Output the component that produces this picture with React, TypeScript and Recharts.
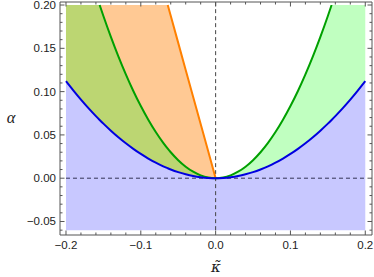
import React from 'react';
import { ComposedChart, Area, Line, XAxis, YAxis, ReferenceLine } from 'recharts';

const kappa = [
  -0.2, -0.19, -0.18, -0.17, -0.16, -0.155, -0.15, -0.14, -0.13, -0.12, -0.11, -0.1,
  -0.09, -0.08, -0.07, -0.064, -0.06, -0.05, -0.04, -0.03, -0.02, -0.01, 0,
  0.01, 0.02, 0.03, 0.04, 0.05, 0.06, 0.07, 0.08, 0.09, 0.1, 0.11, 0.12, 0.13, 0.14,
  0.15, 0.155, 0.16, 0.17, 0.18, 0.19, 0.2,
];
const blueAlpha = [
  0.112, 0.1011, 0.0907, 0.0809, 0.0717, 0.0673, 0.063, 0.0549, 0.0473, 0.0403, 0.0339, 0.028,
  0.0227, 0.0179, 0.0137, 0.0115, 0.0101, 0.007, 0.0045, 0.0025, 0.0011, 0.0003, 0,
  0.0003, 0.0011, 0.0025, 0.0045, 0.007, 0.0101, 0.0137, 0.0179, 0.0227, 0.028, 0.0339, 0.0403,
  0.0473, 0.0549, 0.063, 0.0673, 0.0717, 0.0809, 0.0907, 0.1011, 0.112,
];
const greenAlpha = [
  null, null, null, null, null, 0.2, 0.1873, 0.1632, 0.1407, 0.1199, 0.1007, 0.0833,
  0.0675, 0.0533, 0.0408, 0.0341, 0.03, 0.0208, 0.0133, 0.0075, 0.0033, 0.0008, 0,
  0.0008, 0.0033, 0.0075, 0.0133, 0.0208, 0.03, 0.0408, 0.0533, 0.0675, 0.0833, 0.1007, 0.1199,
  0.1407, 0.1632, 0.1873, 0.2, null, null, null, null, null,
];
const orangeAlpha = [
  null, null, null, null, null, null, null, null, null, null, null, null,
  null, null, null, 0.2, 0.1875, 0.1563, 0.125, 0.0938, 0.0625, 0.0313, 0,
  null, null, null, null, null, null, null, null, null, null, null, null,
  null, null, null, null, null, null, null, null, null,
];

const alphaMin = -0.06;
const alphaMax = 0.2;

const xTicks = [-0.2, -0.18, -0.16, -0.14, -0.12, -0.1, -0.08, -0.06, -0.04, -0.02, 0, 0.02, 0.04, 0.06, 0.08, 0.1, 0.12, 0.14, 0.16, 0.18, 0.2];
const xMajor = [-0.2, -0.1, 0, 0.1, 0.2];
const xLabels = ['\u22120.2', '\u22120.1', '0.0', '0.1', '0.2'];
const yTicks = [-0.06, -0.05, -0.04, -0.03, -0.02, -0.01, 0, 0.01, 0.02, 0.03, 0.04, 0.05, 0.06, 0.07, 0.08, 0.09, 0.1, 0.11, 0.12, 0.13, 0.14, 0.15, 0.16, 0.17, 0.18, 0.19, 0.2];
const yMajor = [-0.05, 0, 0.05, 0.1, 0.15, 0.2];
const yLabels = ['\u22120.05', '0.00', '0.05', '0.10', '0.15', '0.20'];

const data = kappa.map((k, i) => {
  const b = blueAlpha[i];
  const g = greenAlpha[i];
  const o = orangeAlpha[i];
  const left = k <= 0;
  return {
    k,
    blue: b,
    green: g,
    orange: o,
    blueFill: [alphaMin, b],
    greenFill: [b, g == null ? alphaMax : g],
    orangeFill: left ? [b, o == null ? alphaMax : o] : null,
    oliveFill: left ? [b, g == null ? alphaMax : g] : null,
  };
});

const FRAME = '#555555';
const FONT = "'Liberation Sans', Arial, sans-serif";
const SERIF = "'Liberation Serif', 'DejaVu Serif', serif";

const findMajor = (v: number, majors: number[]) => majors.findIndex((m) => Math.abs(m - v) < 1e-9);

const BottomTick = (props: any) => {
  const { x, y, payload } = props;
  const mi = findMajor(payload.value, xMajor);
  const len = mi >= 0 ? 4.5 : 2.5;
  return (
    <g>
      <line x1={x} x2={x} y1={y} y2={y - len} stroke={FRAME} strokeWidth={1} />
      {mi >= 0 && (
        <text x={x} y={y + 14} textAnchor="middle" fontSize={11.5} fontFamily={FONT} fill="#222">
          {xLabels[mi]}
        </text>
      )}
    </g>
  );
};
const TopTick = (props: any) => {
  const { x, y, payload } = props;
  const mi = findMajor(payload.value, xMajor);
  const len = mi >= 0 ? 4.5 : 2.5;
  return <line x1={x} x2={x} y1={y} y2={y + len} stroke={FRAME} strokeWidth={1} />;
};
const LeftTick = (props: any) => {
  const { x, y, payload } = props;
  const mi = findMajor(payload.value, yMajor);
  const len = mi >= 0 ? 4.5 : 2.5;
  return (
    <g>
      <line x1={x} x2={x + len} y1={y} y2={y} stroke={FRAME} strokeWidth={1} />
      {mi >= 0 && (
        <text x={x - 4} y={y + 4} textAnchor="end" fontSize={11.5} fontFamily={FONT} fill="#222">
          {yLabels[mi]}
        </text>
      )}
    </g>
  );
};
const RightTick = (props: any) => {
  const { x, y, payload } = props;
  const mi = findMajor(payload.value, yMajor);
  const len = mi >= 0 ? 4.5 : 2.5;
  return <line x1={x} x2={x - len} y1={y} y2={y} stroke={FRAME} strokeWidth={1} />;
};

const YLabel = (props: any) => {
  const vb = props.viewBox;
  return (
    <text x={vb.x + 11} y={vb.y + vb.height / 2 + 4} textAnchor="middle" fontSize={16.5} fontStyle="italic" fontFamily={SERIF} fill="#222">
      α
    </text>
  );
};
const XLabel = (props: any) => {
  const vb = props.viewBox;
  const cx = vb.x + vb.width / 2;
  const by = vb.y + 37;
  return (
    <text x={cx} y={by} textAnchor="middle" fontSize={15} fontStyle="italic" fontFamily="'DejaVu Serif', serif" fill="#222">
      {'\u03BA\u0303'}
    </text>
  );
};

export default function App() {
  return (
    <div style={{ position: 'absolute', left: 0, top: 0, width: 374, height: 277, background: '#fff' }}>
      <ComposedChart width={374} height={277} data={data} margin={{ top: 0, right: 0, bottom: 0, left: 0 }}>
        <XAxis
          xAxisId="b"
          dataKey="k"
          type="number"
          domain={[-0.208, 0.209]}
          allowDataOverflow
          ticks={xTicks}
          interval={0}
          tick={<BottomTick />}
          tickLine={false}
          tickSize={0}
          tickMargin={0}
          height={42}
          axisLine={{ stroke: FRAME }}
          label={<XLabel />}
        />
        <XAxis
          xAxisId="t"
          orientation="top"
          dataKey="k"
          type="number"
          domain={[-0.208, 0.209]}
          allowDataOverflow
          ticks={xTicks}
          interval={0}
          tick={<TopTick />}
          tickLine={false}
          tickSize={0}
          tickMargin={0}
          height={2}
          axisLine={{ stroke: FRAME }}
        />
        <YAxis
          yAxisId="l"
          type="number"
          domain={[-0.0656, 0.2035]}
          allowDataOverflow
          ticks={yTicks}
          interval={0}
          tick={<LeftTick />}
          tickLine={false}
          tickSize={0}
          tickMargin={0}
          width={60}
          axisLine={{ stroke: FRAME }}
          label={<YLabel />}
        />
        <YAxis
          yAxisId="r"
          orientation="right"
          type="number"
          domain={[-0.0656, 0.2035]}
          allowDataOverflow
          ticks={yTicks}
          interval={0}
          tick={<RightTick />}
          tickLine={false}
          tickSize={0}
          tickMargin={0}
          width={2}
          axisLine={{ stroke: FRAME }}
        />
        <Area xAxisId="b" yAxisId="l" dataKey="blueFill" type="monotone" stroke="none" fill="#c8c8ff" fillOpacity={1} isAnimationActive={false} activeDot={false} />
        <Area xAxisId="b" yAxisId="l" dataKey="greenFill" type="monotone" stroke="none" fill="#c0ffc0" fillOpacity={1} isAnimationActive={false} activeDot={false} />
        <Area xAxisId="b" yAxisId="l" dataKey="orangeFill" type="monotone" stroke="none" fill="#ffc994" fillOpacity={1} isAnimationActive={false} activeDot={false} />
        <Area xAxisId="b" yAxisId="l" dataKey="oliveFill" type="monotone" stroke="none" fill="#bcd672" fillOpacity={1} isAnimationActive={false} activeDot={false} />
        <ReferenceLine xAxisId="b" yAxisId="l" segment={[{ x: -0.2, y: 0 }, { x: 0.2, y: 0 }]} stroke="#333355" strokeDasharray="4 3" strokeWidth={1} />
        <ReferenceLine xAxisId="b" yAxisId="l" segment={[{ x: 0, y: alphaMin }, { x: 0, y: 0.2035 }]} stroke="#444444" strokeDasharray="4 3" strokeWidth={1} />
        <Line xAxisId="b" yAxisId="l" dataKey="orange" type="linear" stroke="#ff8000" strokeWidth={2} dot={false} activeDot={false} isAnimationActive={false} />
        <Line xAxisId="b" yAxisId="l" dataKey="green" type="monotone" stroke="#00a000" strokeWidth={2} dot={false} activeDot={false} isAnimationActive={false} />
        <Line xAxisId="b" yAxisId="l" dataKey="blue" type="monotone" stroke="#0000e0" strokeWidth={2} dot={false} activeDot={false} isAnimationActive={false} />
      </ComposedChart>
    </div>
  );
}
